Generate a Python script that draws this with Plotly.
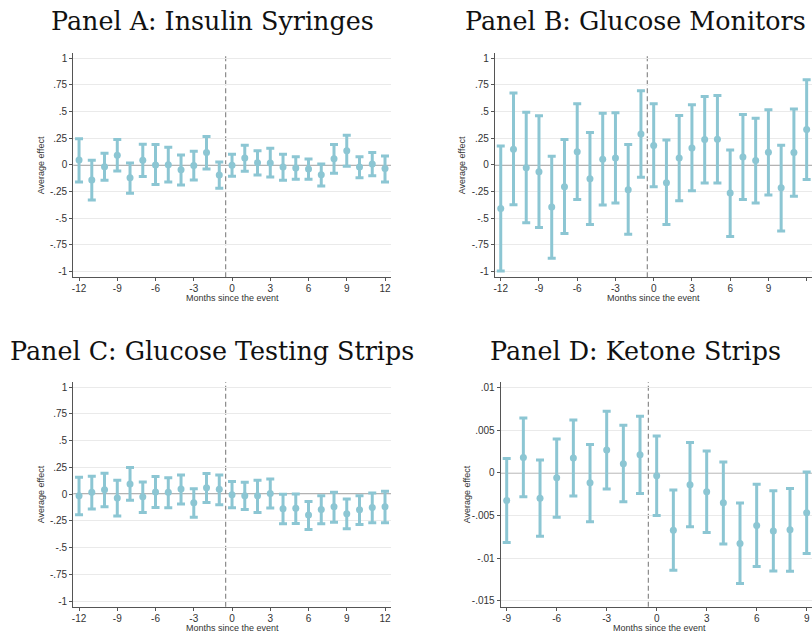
import plotly.graph_objects as go

# ---- data -------------------------------------------------------------
months_abc = list(range(-12, 13))
months_d = list(range(-9, 10))

# Panel A: Insulin Syringes
a_est = [0.047, -0.140, -0.016, 0.091, -0.119, 0.044, 0.000, 0.003, -0.044, -0.006, 0.116, -0.094,
         -0.003, 0.066, 0.022, 0.019, -0.019, -0.028, -0.037, -0.091, 0.059, 0.134, -0.019, 0.009, -0.034]
a_hi = [0.247, 0.044, 0.109, 0.238, 0.019, 0.194, 0.191, 0.166, 0.094, 0.128, 0.266, 0.028,
        0.100, 0.184, 0.134, 0.156, 0.100, 0.078, 0.056, 0.009, 0.191, 0.278, 0.078, 0.116, 0.084]
a_lo = [-0.159, -0.328, -0.144, -0.056, -0.266, -0.109, -0.184, -0.159, -0.188, -0.141, -0.038, -0.219,
        -0.106, -0.059, -0.094, -0.113, -0.144, -0.134, -0.134, -0.197, -0.078, -0.013, -0.119, -0.100, -0.159]

# Panel B: Glucose Monitors
b_est = [-0.408, 0.147, -0.025, -0.063, -0.395, -0.204, 0.125, -0.129, 0.053, 0.066, -0.232, 0.290,
         0.182, -0.166, 0.066, 0.160, 0.238, 0.241, -0.263, 0.075, 0.041, 0.119, -0.213, 0.116, 0.332]
b_hi = [0.179, 0.674, 0.495, 0.461, 0.082, 0.238, 0.574, 0.304, 0.486, 0.489, 0.191, 0.696,
        0.574, 0.235, 0.464, 0.564, 0.643, 0.652, 0.141, 0.473, 0.439, 0.517, 0.185, 0.524, 0.800]
b_lo = [-0.994, -0.373, -0.542, -0.586, -0.875, -0.643, -0.323, -0.558, -0.376, -0.357, -0.649, -0.115,
        -0.204, -0.558, -0.335, -0.241, -0.169, -0.169, -0.671, -0.323, -0.357, -0.282, -0.618, -0.292, -0.135]

# Panel C: Glucose Testing Strips
c_est = [-0.016, 0.016, 0.041, -0.038, 0.094, -0.025, 0.019, 0.016, 0.047, -0.081, 0.059, 0.044,
         -0.006, -0.016, -0.016, 0.006, -0.138, -0.134, -0.197, -0.144, -0.119, -0.184, -0.147, -0.125, -0.119]
c_hi = [0.156, 0.166, 0.194, 0.128, 0.247, 0.113, 0.163, 0.153, 0.178, 0.050, 0.191, 0.178,
        0.116, 0.109, 0.128, 0.141, -0.003, 0.000, -0.069, -0.016, 0.016, -0.047, -0.016, 0.009, 0.025]
c_lo = [-0.194, -0.141, -0.119, -0.206, -0.059, -0.172, -0.125, -0.128, -0.094, -0.216, -0.078, -0.100,
        -0.128, -0.144, -0.172, -0.131, -0.278, -0.275, -0.331, -0.278, -0.263, -0.325, -0.284, -0.269, -0.269]

# Panel D: Ketone Strips
d_est = [-0.00324, 0.00180, -0.00297, -0.00059, 0.00172, -0.00117, 0.00266, 0.00105, 0.00211,
         -0.00035, -0.00672, -0.00141, -0.00223, -0.00352, -0.00828, -0.00617, -0.00680, -0.00668, -0.00469]
d_hi = [0.00168, 0.00640, 0.00148, 0.00395, 0.00617, 0.00332, 0.00719, 0.00555, 0.00660,
        0.00430, -0.00203, 0.00355, 0.00254, 0.00125, -0.00355, -0.00133, -0.00211, -0.00184, 0.00008]
d_lo = [-0.00816, -0.00280, -0.00742, -0.00520, -0.00273, -0.00574, -0.00191, -0.00340, -0.00242,
        -0.00500, -0.01140, -0.00633, -0.00699, -0.00832, -0.01297, -0.01098, -0.01148, -0.01152, -0.00945]

titles = ["Panel A: Insulin Syringes", "Panel B: Glucose Monitors",
          "Panel C: Glucose Testing Strips", "Panel D: Ketone Strips"]

y_ticks_abc = [-1, -0.75, -0.5, -0.25, 0, 0.25, 0.5, 0.75, 1]
y_text_abc = ["-1", "-.75", "-.5", "-.25", "0", ".25", ".5", ".75", "1"]
y_ticks_d = [-0.015, -0.01, -0.005, 0, 0.005, 0.01]
y_text_d = ["-.015", "-.01", "-.005", "0", ".005", ".01"]
x_ticks_abc = [-12, -9, -6, -3, 0, 3, 6, 9, 12]
x_ticks_d = [-9, -6, -3, 0, 3, 6, 9]

# ---- layout geometry (pixels) ------------------------------------------
W, H = 812, 635
BAR = "#8cc6d3"
AXIS = "#555555"
GRID = "#eaeaea"
PANEL_W = 317.7


def px(x):
    return x / W


def py(y):
    return 1 - y / H


panels = [
    # x, est, hi, lo, x-domain px, y-domain px (top, bottom), x range, y range,
    # y ticks, y tick text, x ticks, title centre x, title y, y-title x, x-title y
    (months_abc, a_est, a_hi, a_lo, (73.3, 391), (53.3, 277.3), [-12.45, 12.47], [-1.053, 1.047],
     y_ticks_abc, y_text_abc, x_ticks_abc, 212, 21, 41, 298),
    (months_abc, b_est, b_hi, b_lo, (495, 812), (53.3, 277.3), [-12.45, 12.42], [-1.053, 1.047],
     y_ticks_abc, y_text_abc, x_ticks_abc, 635, 21, 462, 298),
    (months_abc, c_est, c_hi, c_lo, (73.3, 391), (382, 606.7), [-12.45, 12.47], [-1.053, 1.047],
     y_ticks_abc, y_text_abc, x_ticks_abc, 212, 351, 41, 628),
    (months_d, d_est, d_hi, d_lo, (500.7, 812), (382, 606.7), [-9.36, 9.32], [-0.01567, 0.01062],
     y_ticks_d, y_text_d, x_ticks_d, 635, 351, 467, 628),
]

fig = go.Figure()
annotations = []
shapes = []

for i, (xs, est, hi, lo, xd, yd, xr, yr, yt, ytt, xt, tcx, tcy, ytx, xty) in enumerate(panels):
    n = "" if i == 0 else str(i + 1)
    xa, ya = "x" + n, "y" + n
    plus = [h - e for h, e in zip(hi, est)]
    minus = [e - l for e, l in zip(est, lo)]
    fig.add_trace(go.Scatter(
        x=xs, y=est, mode="markers", xaxis=xa, yaxis=ya, showlegend=False,
        marker=dict(color=BAR, size=7),
        error_y=dict(type="data", symmetric=False, array=plus, arrayminus=minus,
                     color=BAR, thickness=3, width=4),
        cliponaxis=False,
    ))
    common = dict(showline=True, linecolor=AXIS, linewidth=1.2, ticks="outside", ticklen=3,
                  tickcolor=AXIS, tickfont=dict(family="Liberation Sans", size=10, color="#333"),
                  zeroline=False)
    fig.update_layout(**{
        "xaxis" + n: dict(domain=[px(xd[0]), px(xd[1])], range=xr, tickvals=xt,
                          ticktext=[str(v) for v in xt], showgrid=False, anchor=ya,
                          ticklabelstandoff=-1, **common),
        "yaxis" + n: dict(domain=[py(yd[1]), py(yd[0])], range=yr, tickvals=yt, ticktext=ytt,
                          showgrid=True, gridcolor=GRID, gridwidth=1, anchor=xa, **common),
    })
    # zero reference line
    shapes.append(dict(type="line", xref=xa + " domain", yref=ya, x0=0, x1=1, y0=0, y1=0,
                       line=dict(color="#9a9a9a", width=1.5), layer="below"))
    # event line between month -1 and month 0
    shapes.append(dict(type="line", xref=xa, yref=ya + " domain", x0=-0.5, x1=-0.5, y0=0, y1=1,
                       line=dict(color="#8a8a8a", width=1.2, dash="5px,3px"), layer="below"))
    annotations.append(dict(text=titles[i], x=px(tcx), y=py(tcy), xref="paper", yref="paper",
                            showarrow=False, xanchor="center", yanchor="middle",
                            font=dict(family="DejaVu Serif", size=25.4, color="#111")))
    annotations.append(dict(text="Average effect", x=px(ytx), y=py((yd[0] + yd[1]) / 2),
                            xref="paper", yref="paper", showarrow=False, textangle=-90,
                            xanchor="center", yanchor="middle",
                            font=dict(family="Liberation Sans", size=9, color="#333")))
    annotations.append(dict(text="Months since the event", x=px(xd[0] + PANEL_W / 2),
                            y=py(xty), xref="paper", yref="paper", showarrow=False,
                            xanchor="center", yanchor="middle",
                            font=dict(family="Liberation Sans", size=9, color="#333")))

fig.update_layout(width=W, height=H, margin=dict(l=0, r=0, t=0, b=0),
                  paper_bgcolor="white", plot_bgcolor="white",
                  annotations=annotations, shapes=shapes)

fig.write_html("out.html")
